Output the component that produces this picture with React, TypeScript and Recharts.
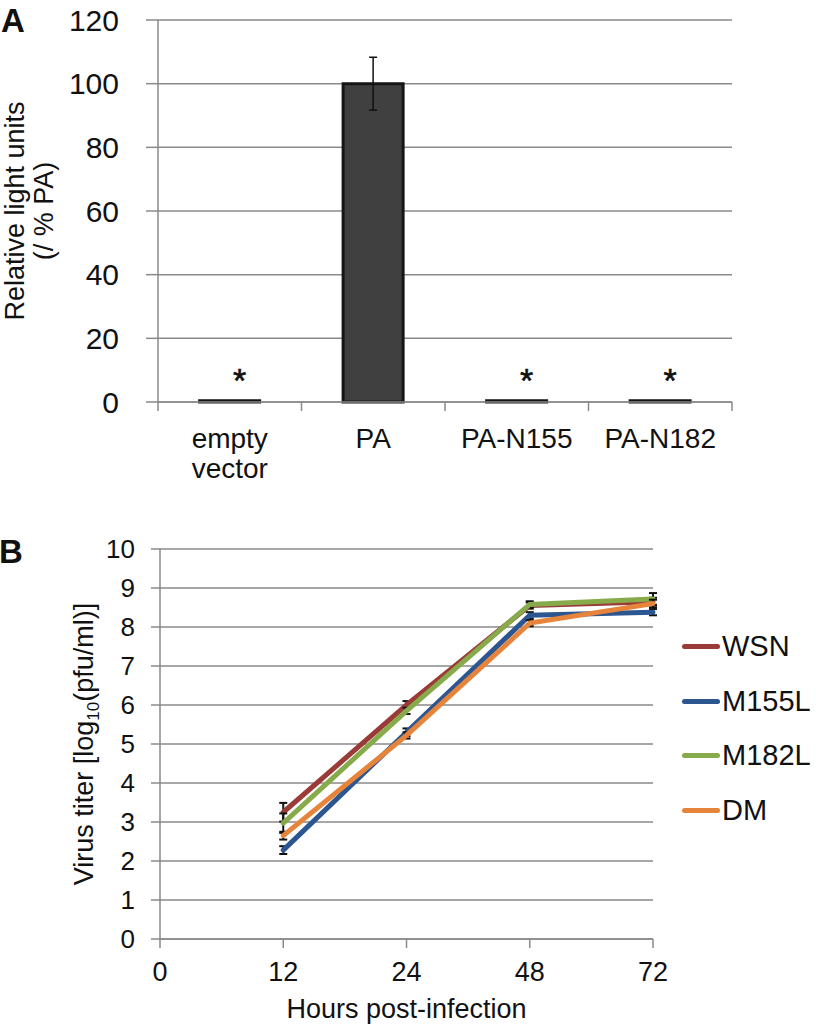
import React from "react";
import {
  BarChart,
  Bar,
  LineChart,
  Line,
  XAxis,
  YAxis,
  CartesianGrid,
  ErrorBar,
  LabelList,
  Label,
  Legend,
} from "recharts";

const FONT = '"Liberation Sans", Arial, Helvetica, sans-serif';
const GRID = "#8a8a8a";
const INK = "#111";

// Panel A: luciferase reporter activity
const constructs = ["empty\nvector", "PA", "PA-N155", "PA-N182"];
const luciferase = [0.4, 100, 0.4, 0.4];
const luciferaseErr = [null, 8.3, null, null];
const significance = ["*", "", "*", "*"];
const rluTicks = [0, 20, 40, 60, 80, 100, 120];

// Panel B: growth kinetics
const hours = ["0", "12", "24", "48", "72"];
const wsn = [null, 3.25, 6.0, 8.55, 8.65];
const m155l = [null, 2.28, 5.3, 8.3, 8.38];
const m182l = [null, 2.97, 5.85, 8.58, 8.72];
const dm = [null, 2.65, 5.22, 8.1, 8.6];
const wsnErr = [null, 0.24, 0.1, 0.08, 0.1];
const m155lErr = [null, 0.1, 0.1, 0.08, 0.08];
const m182lErr = [null, 0.25, 0.08, 0.08, 0.15];
const dmErr = [null, 0.1, 0.08, 0.08, 0.1];
const titerTicks = [0, 1, 2, 3, 4, 5, 6, 7, 8, 9, 10];

const series = [
  { key: "wsn", name: "WSN", color: "#9b3b38" },
  { key: "m155l", name: "M155L", color: "#2b5690" },
  { key: "m182l", name: "M182L", color: "#87aa4b" },
  { key: "dm", name: "DM", color: "#e6843b" },
];

const barData = constructs.map((name, i) => ({
  name,
  rlu: luciferase[i],
  err: luciferaseErr[i],
  sig: significance[i],
}));

const lineData = hours.map((h, i) => ({
  h,
  wsn: wsn[i],
  m155l: m155l[i],
  m182l: m182l[i],
  dm: dm[i],
  wsnErr: wsnErr[i],
  m155lErr: m155lErr[i],
  m182lErr: m182lErr[i],
  dmErr: dmErr[i],
}));

// category labels with Excel-style tick marks between categories
function ConstructTick(props: any) {
  const { x, y, payload, index, visibleTicksCount } = props;
  const half = payload.offset ?? 0;
  const lines = String(payload.value).split("\n");
  return (
    <g>
      <line x1={x - half} x2={x - half} y1={y} y2={y + 9} stroke={GRID} strokeWidth={1.5} />
      {index === visibleTicksCount - 1 && (
        <line x1={x + half} x2={x + half} y1={y} y2={y + 9} stroke={GRID} strokeWidth={1.5} />
      )}
      <text x={x} y={y + 46} textAnchor="middle" fontSize={28} fontFamily={FONT} fill={INK}>
        {lines.map((l, i) => (
          <tspan key={i} x={x} dy={i === 0 ? 0 : 30}>
            {l}
          </tspan>
        ))}
      </text>
    </g>
  );
}

function StarLabel(props: any) {
  const vb = props.viewBox ?? props;
  if (!props.value) return null;
  const cx = vb.x + vb.width / 2 + 10;
  return (
    <text
      x={cx}
      y={vb.y - 9}
      textAnchor="middle"
      fontSize={34}
      fontFamily={FONT}
      fill={INK}
      stroke={INK}
      strokeWidth={0.6}
    >
      {props.value}
    </text>
  );
}

function RluTitle(props: any) {
  const vb = props.viewBox;
  const cy = vb.y + vb.height / 2;
  const b1 = vb.x + 24;
  const b2 = vb.x + 53;
  return (
    <g fontSize={27} fontFamily={FONT} fill={INK}>
      <text x={b1} y={cy} transform={`rotate(-90 ${b1} ${cy})`} textAnchor="middle">
        Relative light units
      </text>
      <text x={b2} y={cy} transform={`rotate(-90 ${b2} ${cy})`} textAnchor="middle">
        (/ % PA)
      </text>
    </g>
  );
}

function TiterTitle(props: any) {
  const vb = props.viewBox;
  const cy = vb.y + vb.height / 2;
  const bx = vb.x + 93;
  return (
    <text
      x={bx}
      y={cy}
      transform={`rotate(-90 ${bx} ${cy})`}
      textAnchor="middle"
      fontSize={27}
      fontFamily={FONT}
      fill={INK}
    >
      Virus titer [log
      <tspan fontSize={17} dy={6}>
        10
      </tspan>
      <tspan dy={-6}>(pfu/ml)]</tspan>
    </text>
  );
}

// keep the legend in series order (Recharts sorts by name otherwise)
function SeriesLegend() {
  return (
    <div style={{ fontFamily: FONT, fontSize: 29, color: INK }}>
      {series.map((s) => (
        <div key={s.key} style={{ display: "flex", alignItems: "center", height: 54.7 }}>
          <span
            style={{
              display: "inline-block",
              width: 38,
              height: 5,
              borderRadius: 3,
              background: s.color,
              marginRight: 2,
            }}
          />
          <span>{s.name}</span>
        </div>
      ))}
    </div>
  );
}

export default function App() {
  return (
    <div
      style={{
        position: "absolute",
        left: 0,
        top: 0,
        width: 816,
        height: 1024,
        background: "#fff",
        fontFamily: FONT,
      }}
    >
      <div style={{ position: "absolute", left: 0, top: 0 }}>
        <BarChart
          width={816}
          height={500}
          data={barData}
          margin={{ top: 20, right: 84, left: 0, bottom: 0 }}
          barCategoryGap="29%"
        >
          <CartesianGrid vertical={false} stroke={GRID} strokeWidth={1.5} />
          <XAxis
            dataKey="name"
            interval={0}
            height={98}
            tickSize={0}
            tickMargin={0}
            tickLine={false}
            axisLine={{ stroke: GRID, strokeWidth: 1.5 }}
            tick={<ConstructTick />}
          />
          <YAxis
            width={158}
            domain={[0, 120]}
            ticks={rluTicks}
            interval={0}
            tickSize={12}
            tickMargin={27}
            axisLine={{ stroke: GRID, strokeWidth: 1.5 }}
            tickLine={{ stroke: GRID, strokeWidth: 1.5 }}
            tick={{ fill: INK, fontSize: 30, fontFamily: FONT }}
          >
            <Label content={<RluTitle />} />
          </YAxis>
          <YAxis
            yAxisId="frame"
            orientation="right"
            width={0}
            domain={[0, 120]}
            tick={false}
            tickLine={false}
            axisLine={{ stroke: GRID, strokeWidth: 1.5 }}
          />
          <Bar
            dataKey="rlu"
            fill="#404040"
            stroke="#151515"
            strokeWidth={3}
            isAnimationActive={false}
          >
            <ErrorBar dataKey="err" width={4} stroke={INK} strokeWidth={1.5} />
            <LabelList dataKey="sig" content={<StarLabel />} />
          </Bar>
        </BarChart>
      </div>

      <div style={{ position: "absolute", left: 0, top: 500 }}>
        <LineChart
          width={816}
          height={524}
          data={lineData}
          margin={{ top: 49, right: 163, left: 0, bottom: 0 }}
        >
          <CartesianGrid vertical={false} stroke={GRID} strokeWidth={1.5} />
          <XAxis
            dataKey="h"
            interval={0}
            height={85}
            tickSize={9}
            tickMargin={14}
            axisLine={{ stroke: GRID, strokeWidth: 1.5 }}
            tickLine={{ stroke: GRID, strokeWidth: 1.5 }}
            tick={{ fill: INK, fontSize: 27, fontFamily: FONT }}
          >
            <Label
              value="Hours post-infection"
              position="insideBottom"
              offset={6}
              fill={INK}
              fontSize={27}
              fontFamily={FONT}
            />
          </XAxis>
          <YAxis
            width={160}
            domain={[0, 10]}
            ticks={titerTicks}
            interval={0}
            tickSize={9}
            tickMargin={16}
            axisLine={{ stroke: GRID, strokeWidth: 1.5 }}
            tickLine={{ stroke: GRID, strokeWidth: 1.5 }}
            tick={{ fill: INK, fontSize: 26, fontFamily: FONT }}
          >
            <Label content={<TiterTitle />} />
          </YAxis>
          <YAxis
            yAxisId="frame"
            orientation="right"
            width={0}
            domain={[0, 10]}
            tick={false}
            tickLine={false}
            axisLine={{ stroke: GRID, strokeWidth: 1.5 }}
          />
          <Legend
            layout="vertical"
            align="center"
            verticalAlign="middle"
            wrapperStyle={{ left: 682, top: 119 }}
            content={<SeriesLegend />}
          />
          {series.map((s) => (
            <Line
              key={s.key}
              type="linear"
              dataKey={s.key}
              name={s.name}
              stroke={s.color}
              strokeWidth={5}
              strokeLinecap="round"
              dot={false}
              activeDot={false}
              isAnimationActive={false}
            >
              <ErrorBar dataKey={`${s.key}Err`} width={4} stroke={INK} strokeWidth={2} />
            </Line>
          ))}
        </LineChart>
      </div>

      <svg
        width={816}
        height={1024}
        style={{ position: "absolute", left: 0, top: 0, pointerEvents: "none" }}
      >
        <text x={1} y={32} fontSize={33} fontWeight="bold" fontFamily={FONT} fill={INK}>
          A
        </text>
        <text x={-1} y={563} fontSize={33} fontWeight="bold" fontFamily={FONT} fill={INK}>
          B
        </text>
      </svg>
    </div>
  );
}
